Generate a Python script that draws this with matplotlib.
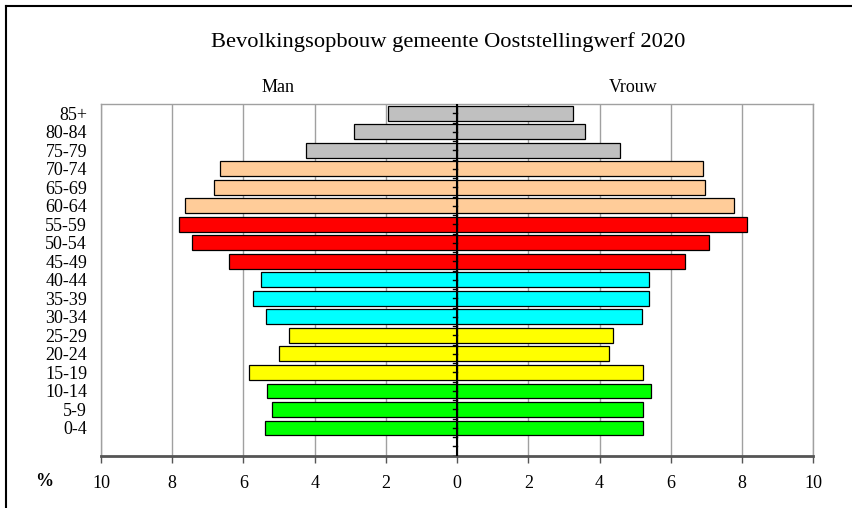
import numpy as np
import matplotlib
matplotlib.use("Agg")
import matplotlib.pyplot as plt
from matplotlib.lines import Line2D

plt.rcParams['font.family'] = ['Liberation Serif', 'DejaVu Serif']

# leeftijdsgroepen van jong naar oud
groepen = ["0-4", "5-9", "10-14", "15-19", "20-24", "25-29", "30-34", "35-39",
           "40-44", "45-49", "50-54", "55-59", "60-64", "65-69", "70-74",
           "75-79", "80-84", "85+"]
man = [5.39, 5.19, 5.33, 5.84, 5.01, 4.71, 5.36, 5.73,
       5.50, 6.42, 7.44, 7.80, 7.63, 6.83, 6.66,
       4.25, 2.90, 1.94]
vrouw = [5.22, 5.21, 5.44, 5.22, 4.27, 4.37, 5.18, 5.40,
         5.38, 6.40, 7.07, 8.13, 7.76, 6.96, 6.89,
         4.57, 3.59, 3.26]
kleuren = ["#00FF00"] * 3 + ["#FFFF00"] * 3 + ["#00FFFF"] * 3 + \
          ["#FF0000"] * 3 + ["#FFCC99"] * 3 + ["#C0C0C0"] * 3
xticks = [-10, -8, -6, -4, -2, 0, 2, 4, 6, 8, 10]

fig = plt.figure(figsize=(8.53, 5.08), dpi=100)
ax = fig.add_axes([101/853, 52.3/508, 712.3/853, 351.7/508])

y = np.arange(1, len(groepen) + 1)
ax.barh(y, [-m for m in man], height=0.8, color=kleuren, edgecolor="black",
        linewidth=0.9, zorder=3)
ax.barh(y, vrouw, height=0.8, color=kleuren, edgecolor="black",
        linewidth=0.9, zorder=3)

ax.set_xlim(-10, 10)
ax.set_ylim(-0.5, 18.5)
ax.set_xticks(xticks)
ax.set_xticklabels([str(abs(v)) for v in xticks], fontsize=13)
ax.set_yticks(y)
ax.set_yticklabels(groepen, fontsize=13)
ax.tick_params(axis='y', length=0, pad=10)
ax.tick_params(axis='x', length=5, width=1, color="#555555", pad=9)
ax.xaxis.grid(True, color="#A0A0A0", linewidth=1, zorder=0)

for s in ["top", "left", "right"]:
    ax.spines[s].set_color("#A0A0A0")
    ax.spines[s].set_linewidth(1)
ax.spines["bottom"].set_color("#555555")
ax.spines["bottom"].set_linewidth(2)

# middenas met streepjes
ax.axvline(0, color="black", linewidth=1.5, zorder=4)
for t in np.arange(-0.5, 18.5, 0.5):
    ax.plot([-0.12, 0], [t, t], color="black", linewidth=1, zorder=4)

fig.text(448/853, 1 - 42/508, "Bevolkingsopbouw gemeente Ooststellingwerf 2020",
         ha="center", va="center", fontsize=16.2)
fig.text(278/853, 1 - 87/508, "Man", ha="center", va="center", fontsize=13)
fig.text(633/853, 1 - 87/508, "Vrouw", ha="center", va="center", fontsize=13)
fig.text(44/853, 1 - 482/508, "%", ha="center", va="center", fontsize=13,
         fontweight="bold")

# kader
fig.add_artist(Line2D([6/853, 6/853], [0, 1 - 6/508], color="black", linewidth=1.5))
fig.add_artist(Line2D([6/853, 1], [1 - 6/508, 1 - 6/508], color="black", linewidth=1.5))

plt.savefig("out.png")
